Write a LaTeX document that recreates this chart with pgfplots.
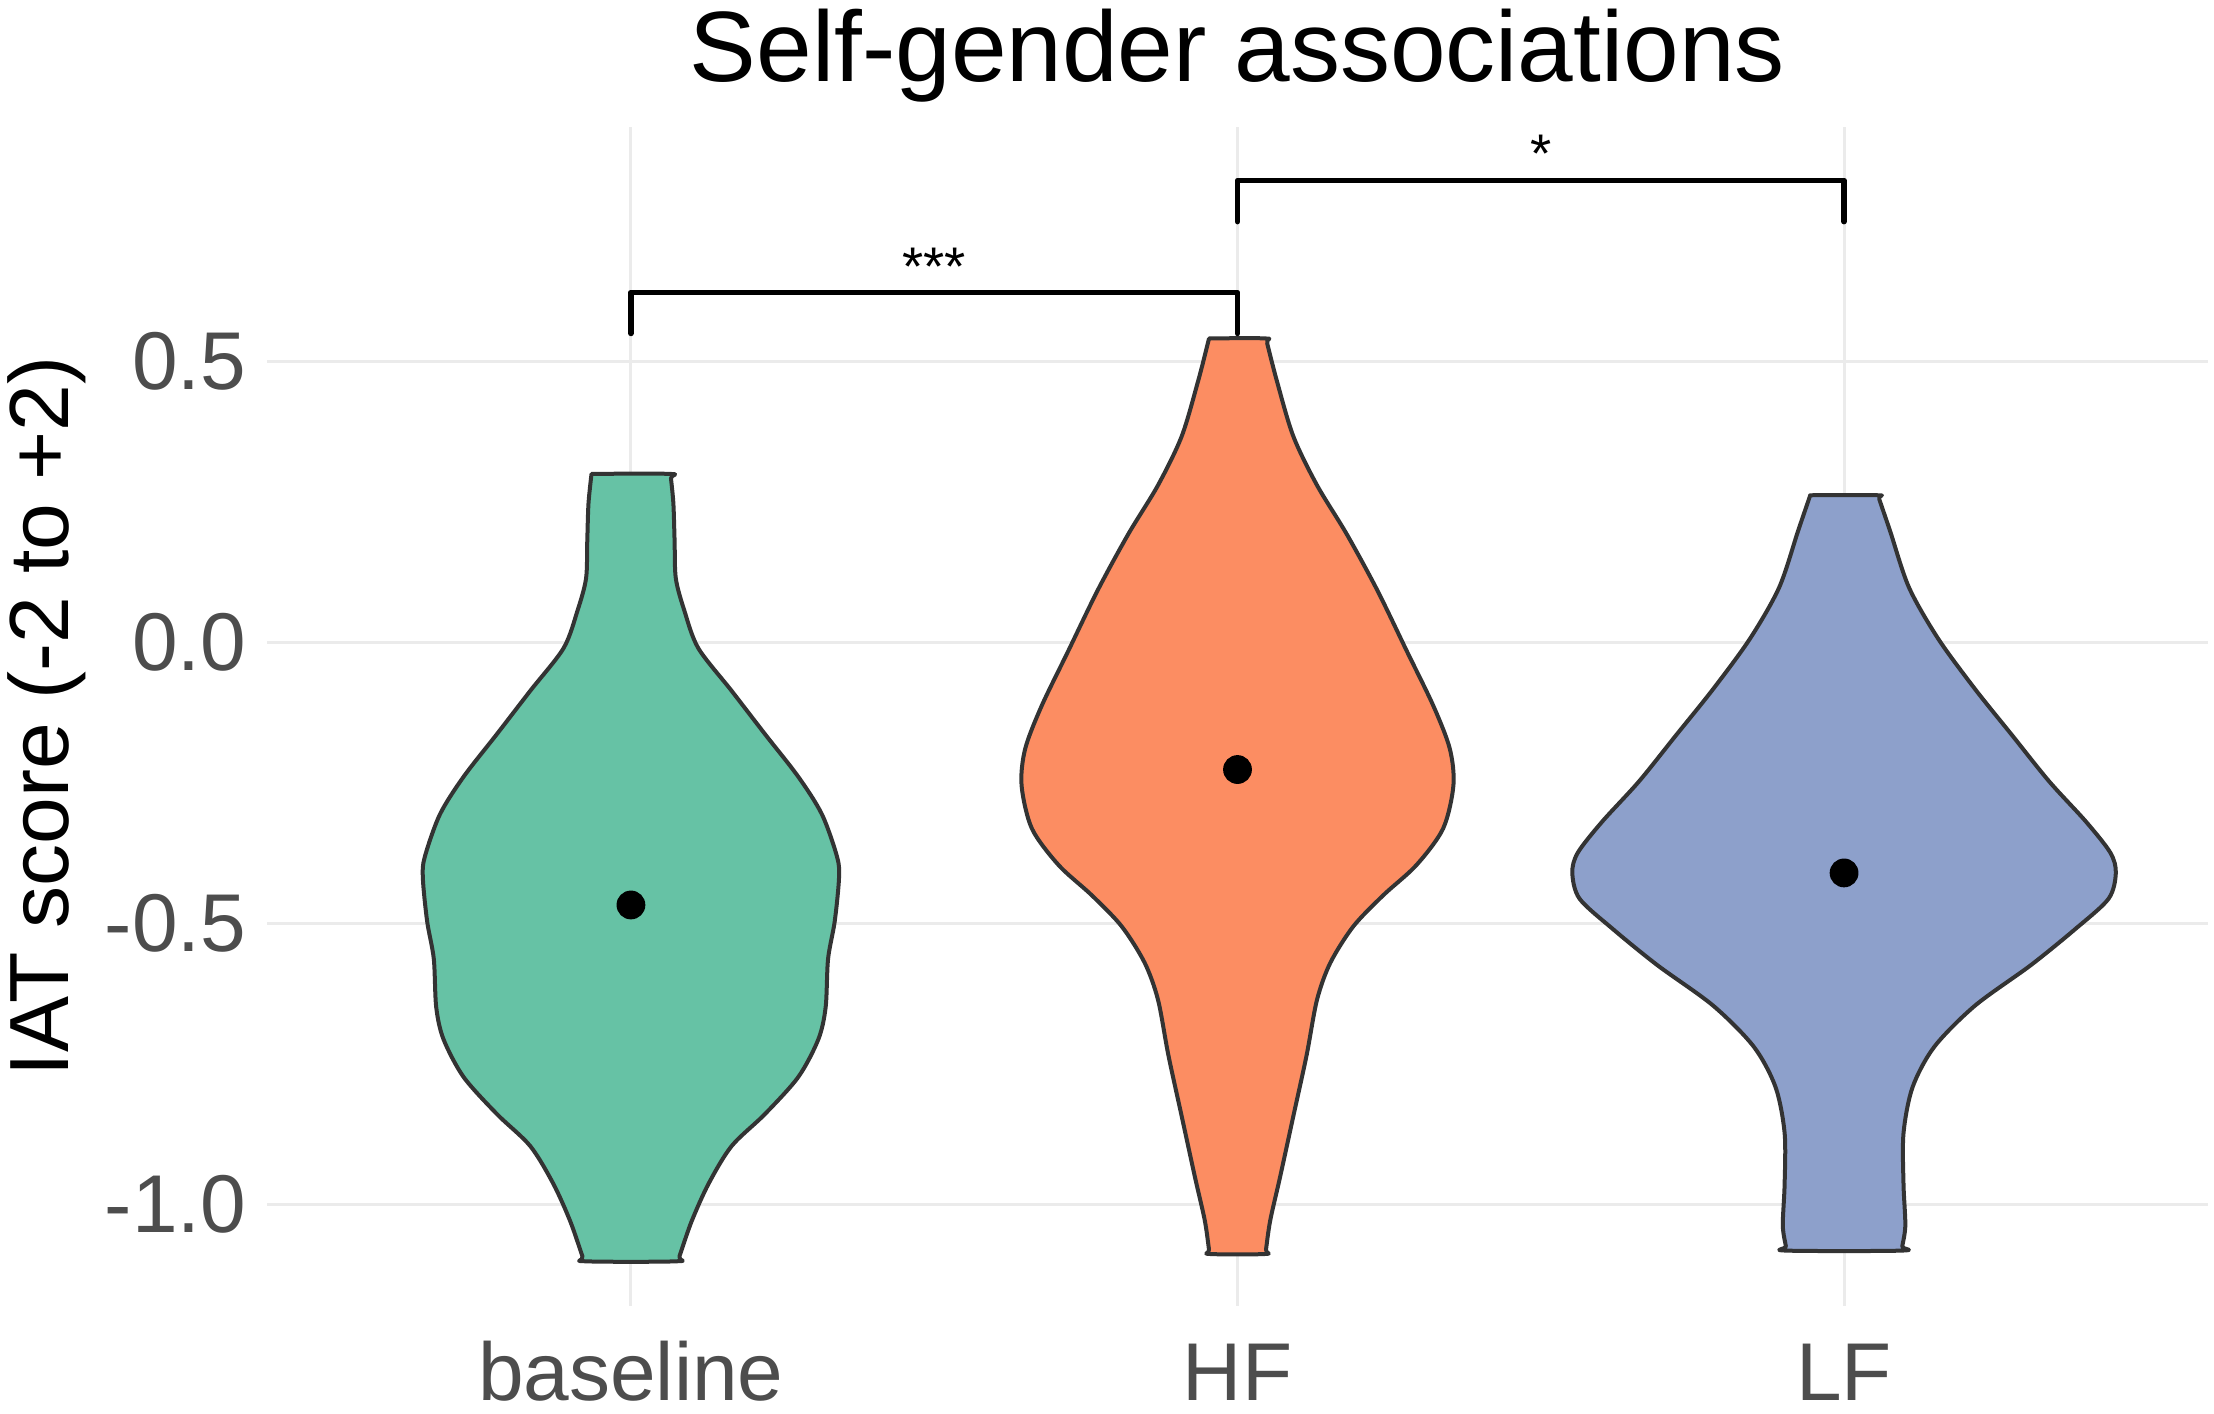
\documentclass[border=0pt]{standalone}
\usepackage{pgfplots}
\pgfplotsset{compat=1.18}
\usepackage{fontspec}
\setmainfont{Liberation Sans}
\definecolor{cbase}{HTML}{66C2A5}
\definecolor{chf}{HTML}{FC8D62}
\definecolor{clf}{HTML}{8DA0CB}
\definecolor{outl}{HTML}{333333}
\definecolor{gridc}{HTML}{EBEBEB}
\definecolor{tickc}{HTML}{4D4D4D}
\begin{document}
\begin{tikzpicture}
\useasboundingbox (-66.75pt,-26.75pt) rectangle (486.75pt,326.5pt);
\begin{axis}[at={(0,0)}, anchor=south west, scale only axis,
  width=485.25pt, height=294.75pt,
  xmin=0.4, xmax=3.6, ymin=-1.1806, ymax=0.9173,
  xtick={1,2,3}, xticklabels={baseline,HF,LF},
  ytick={-1,-0.5,0,0.5}, yticklabels={-1.0,-0.5,0.0,0.5},
  axis line style={draw=none}, major tick length=0pt,
  grid=major, grid style={gridc, line width=0.75pt},
  xticklabel style={font=\fontsize{20.5}{24}\selectfont, text=tickc, anchor=base, inner sep=0pt, yshift=-23.5pt},
  yticklabel style={font=\fontsize{20.5}{24}\selectfont, text=tickc, anchor=east, inner sep=0pt, xshift=-5pt},
  ylabel={IAT score (-2 to +2)},
  ylabel style={font=\fontsize{21}{25}\selectfont, at={(axis description cs:-0.1133,0.5)}, anchor=center},
  clip=false,
]
% baseline violin
\addplot[fill=cbase, draw=outl, line width=1pt, line join=round, smooth, tension=0.5] table {
x y
0.935 0.300
1.065 0.300
1.066 0.292
1.070 0.247
1.072 0.180
1.074 0.114
1.088 0.057
1.111 -0.010
1.166 -0.086
1.221 -0.163
1.276 -0.239
1.315 -0.306
1.340 -0.382
1.343 -0.420
1.336 -0.496
1.325 -0.563
1.321 -0.649
1.309 -0.706
1.276 -0.773
1.221 -0.839
1.166 -0.896
1.128 -0.963
1.100 -1.030
1.080 -1.092
1.076 -1.101
0.924 -1.101
0.920 -1.092
0.900 -1.030
0.872 -0.963
0.834 -0.896
0.779 -0.839
0.724 -0.773
0.691 -0.706
0.679 -0.649
0.675 -0.563
0.664 -0.496
0.657 -0.420
0.660 -0.382
0.685 -0.306
0.724 -0.239
0.779 -0.163
0.834 -0.086
0.889 -0.010
0.912 0.057
0.926 0.114
0.928 0.180
0.930 0.247
0.935 0.300
} -- cycle;
% HF violin
\addplot[fill=chf, draw=outl, line width=1pt, line join=round, smooth, tension=0.5] table {
x y
1.953 0.541
2.047 0.541
2.049 0.532
2.065 0.465
2.092 0.367
2.131 0.280
2.180 0.193
2.230 0.094
2.279 -0.015
2.323 -0.113
2.350 -0.189
2.356 -0.254
2.339 -0.331
2.295 -0.396
2.240 -0.450
2.191 -0.505
2.153 -0.570
2.131 -0.636
2.114 -0.734
2.092 -0.843
2.070 -0.952
2.054 -1.028
2.047 -1.080
2.046 -1.088
1.954 -1.088
1.953 -1.080
1.946 -1.028
1.930 -0.952
1.908 -0.843
1.886 -0.734
1.869 -0.636
1.847 -0.570
1.809 -0.505
1.760 -0.450
1.705 -0.396
1.661 -0.331
1.644 -0.254
1.650 -0.189
1.677 -0.113
1.721 -0.015
1.770 0.094
1.820 0.193
1.869 0.280
1.908 0.367
1.935 0.465
1.951 0.532
1.953 0.541
} -- cycle;
% LF violin
\addplot[fill=clf, draw=outl, line width=1pt, line join=round, smooth, tension=0.5] table {
x y
2.944 0.262
3.056 0.262
3.058 0.255
3.076 0.198
3.107 0.098
3.155 0.007
3.216 -0.083
3.277 -0.165
3.338 -0.247
3.399 -0.319
3.439 -0.374
3.448 -0.410
3.436 -0.456
3.381 -0.510
3.308 -0.574
3.216 -0.646
3.149 -0.719
3.113 -0.791
3.098 -0.873
3.098 -0.964
3.101 -1.037
3.096 -1.074
3.095 -1.082
2.905 -1.082
2.904 -1.074
2.899 -1.037
2.902 -0.964
2.902 -0.873
2.887 -0.791
2.851 -0.719
2.784 -0.646
2.692 -0.574
2.619 -0.510
2.564 -0.456
2.552 -0.410
2.561 -0.374
2.601 -0.319
2.662 -0.247
2.723 -0.165
2.784 -0.083
2.845 0.007
2.893 0.098
2.924 0.198
2.942 0.255
2.944 0.262
} -- cycle;
% means
\addplot[only marks, mark=*, mark size=3.4pt, black] coordinates {(1,-0.467) (2,-0.226) (3,-0.410)};
% significance brackets
\addplot[black, line width=1.4pt, line cap=round, line join=round] coordinates {(1,0.550) (1,0.623) (2,0.623) (2,0.550)};
\addplot[black, line width=1.4pt, line cap=round, line join=round] coordinates {(2,0.749) (2,0.822) (3,0.822) (3,0.749)};
\node[anchor=base, font=\fontsize{13.6}{16}\selectfont] at (axis cs:1.5,0.636) {***};
\node[anchor=base, font=\fontsize{13.6}{16}\selectfont] at (axis cs:2.5,0.837) {*};
% title
\node[anchor=base, yshift=11.25pt, font=\fontsize{25}{30}\selectfont] at (rel axis cs:0.5,1) {Self-gender associations};
\end{axis}
\end{tikzpicture}
\end{document}
